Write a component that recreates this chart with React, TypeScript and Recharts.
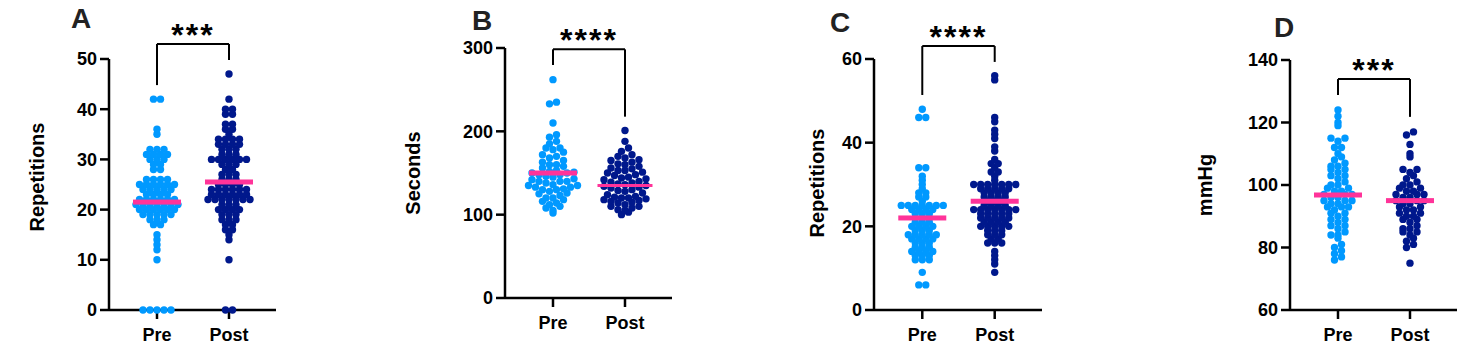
import React from 'react';
import { ScatterChart, Scatter, XAxis, YAxis, ReferenceLine } from 'recharts';

const groups = ['Pre', 'Post'];

// A: repetitions
const aPre = [0, 0, 0, 0, 0, 10, 12, 13, 14, 15, 17, 17, 18, 18, 18, 19, 19, 19, 19, 19, 20, 20, 20, 20, 20, 20, 21, 21, 21, 21, 21, 21, 21, 22, 22, 22, 22, 22, 22, 23, 23, 23, 23, 24, 24, 24, 24, 24, 25, 25, 25, 25, 25, 25, 26, 26, 26, 26, 28, 28, 29, 29, 30, 30, 30, 31, 31, 31, 31, 32, 32, 32, 35, 36, 42, 42];
const aPost = [0, 0, 10, 14, 15, 16, 16, 17, 17, 18, 18, 18, 19, 19, 19, 20, 20, 20, 20, 21, 21, 21, 22, 22, 22, 22, 22, 22, 22, 23, 23, 23, 23, 23, 23, 24, 24, 24, 24, 24, 24, 25, 25, 25, 25, 26, 26, 26, 27, 27, 27, 28, 28, 29, 29, 29, 30, 30, 30, 30, 30, 30, 31, 31, 31, 32, 32, 32, 33, 33, 33, 33, 34, 34, 34, 34, 35, 36, 36, 37, 37, 39, 39, 40, 40, 42, 47];
const aMedians = [21.5, 25.5];
const aBracket = [53, 44.8, 49.8];

// B: seconds
const bPre = [102, 105, 108, 110, 112, 114, 116, 118, 120, 120, 123, 125, 126, 128, 130, 130, 131, 133, 133, 135, 135, 136, 138, 140, 140, 140, 142, 143, 145, 146, 148, 148, 150, 150, 151, 152, 153, 156, 158, 160, 160, 163, 165, 168, 170, 172, 175, 178, 180, 180, 185, 188, 193, 196, 210, 233, 235, 262];
const bPost = [100, 103, 105, 106, 108, 110, 110, 112, 114, 115, 116, 117, 118, 119, 120, 120, 121, 122, 124, 126, 128, 129, 130, 132, 133, 134, 135, 136, 137, 138, 139, 140, 142, 143, 144, 145, 147, 148, 150, 151, 153, 153, 155, 156, 158, 160, 161, 163, 165, 166, 168, 170, 172, 176, 180, 188, 201];
const bMedians = [150, 135];
const bBracket = [298.4, 279.6, 217.6];

// C: repetitions
const cPre = [6, 6, 9, 12, 12, 12, 13, 13, 13, 14, 14, 14, 14, 15, 15, 15, 16, 16, 16, 17, 17, 17, 17, 18, 18, 18, 18, 18, 19, 19, 19, 20, 20, 20, 20, 21, 21, 21, 22, 22, 22, 23, 23, 23, 24, 24, 24, 24, 25, 25, 25, 25, 25, 25, 25, 26, 27, 27, 28, 28, 29, 30, 31, 32, 34, 34, 46, 46, 48];
const cPost = [9, 11, 12, 13, 14, 16, 16, 16, 17, 17, 18, 18, 18, 19, 19, 19, 20, 20, 20, 20, 20, 21, 21, 21, 21, 22, 22, 22, 22, 22, 23, 23, 23, 23, 23, 24, 24, 24, 24, 24, 24, 24, 25, 25, 25, 25, 26, 26, 26, 27, 27, 27, 27, 28, 28, 28, 28, 29, 29, 29, 29, 29, 30, 30, 30, 30, 30, 30, 30, 31, 32, 33, 33, 34, 35, 35, 36, 38, 39, 41, 42, 43, 45, 46, 55, 56];
const cMedians = [22, 26];
const cBracket = [63.1, 51.4, 59.3];

// D: mmHg
const dPre = [76, 77, 78, 79, 80, 81, 83, 84, 84, 85, 86, 87, 87, 88, 89, 89, 90, 91, 91, 92, 93, 93, 93, 94, 94, 95, 95, 95, 96, 96, 97, 97, 97, 98, 98, 99, 99, 100, 100, 101, 102, 103, 103, 104, 105, 105, 106, 106, 107, 108, 109, 110, 112, 112, 114, 115, 115, 119, 120, 122, 124];
const dPost = [75, 80, 81, 82, 83, 84, 85, 85, 86, 86, 87, 88, 89, 89, 90, 90, 91, 91, 92, 92, 93, 93, 94, 94, 95, 95, 95, 96, 96, 97, 97, 97, 98, 98, 99, 99, 100, 100, 101, 102, 103, 104, 105, 105, 109, 110, 113, 116, 117];
const dMedians = [96.8, 95];
const dBracket = [133.9, 128.8, 121.8];

const FONT = '"Liberation Sans", Arial, Helvetica, sans-serif';
const LIGHT = '#0099ff';
const DARK = '#00188c';
const PINK = '#ff3399';
const X_DOMAIN = [1 / 3, 2.653];
const R = 3.7;
const STEP = 7;

// rows of dots, prism-style: values binned, each row centred on the group
function swarm(values: number[], bin: number, center: number, pxPerX: number) {
  const rows = new Map<number, number[]>();
  for (const v of values) {
    const k = Math.floor(v / bin);
    if (!rows.has(k)) rows.set(k, []);
    rows.get(k)!.push(v);
  }
  const out: { x: number; y: number }[] = [];
  rows.forEach((vs) => {
    vs.sort((a, b) => a - b);
    const n = vs.length;
    // alternate outward from the middle so lower values sit at the centre
    const slots = vs.map((_, i) => i - (n - 1) / 2).sort((a, b) => Math.abs(a) - Math.abs(b));
    vs.forEach((v, i) => out.push({ x: center + (slots[i] * STEP) / pxPerX, y: v }));
  });
  return out;
}

type Panel = {
  letter: string;
  stars: string;
  yLabel: string;
  pre: number[];
  post: number[];
  medians: number[];
  bracket: number[];
  bin: number;
  domain: [number, number];
  ticks: number[];
  left: number;
  plot: { l: number; r: number; t: number; b: number };
  labelAt: [number, number];
  letterAt: [number, number];
  medianW?: number[];
  medianH?: number[];
};

const panels: Panel[] = [
  { letter: 'A', stars: '***', yLabel: 'Repetitions', pre: aPre, post: aPost, medians: aMedians, bracket: aBracket, bin: 1, domain: [0, 50], ticks: [0, 10, 20, 30, 40, 50], left: 0, plot: { l: 109, r: 276, t: 59, b: 310 }, labelAt: [37, 177], letterAt: [81, 28] },
  { letter: 'B', stars: '****', yLabel: 'Seconds', pre: bPre, post: bPost, medians: bMedians, bracket: bBracket, bin: 8, domain: [0, 300], ticks: [0, 100, 200, 300], left: 370, plot: { l: 135, r: 302, t: 48, b: 298 }, labelAt: [43, 173], letterAt: [112, 30], medianW: [48, 55], medianH: [5, 3] },
  { letter: 'C', stars: '****', yLabel: 'Repetitions', pre: cPre, post: cPost, medians: cMedians, bracket: cBracket, bin: 1, domain: [0, 60], ticks: [0, 20, 40, 60], left: 740, plot: { l: 134, r: 302, t: 59, b: 310 }, labelAt: [77, 183], letterAt: [100, 32] },
  { letter: 'D', stars: '***', yLabel: 'mmHg', pre: dPre, post: dPost, medians: dMedians, bracket: dBracket, bin: 2, domain: [60, 140], ticks: [60, 80, 100, 120, 140], left: 1108, plot: { l: 182, r: 349, t: 60, b: 310 }, labelAt: [97, 185], letterAt: [176, 37] },
];

const W = 370;
const H = 364;
const Y_AXIS_W = 60;
const X_AXIS_H = 30;

const tickStyle = { fontSize: 18, fontWeight: 700, fill: '#000', fontFamily: FONT };

function Dot(color: string) {
  return (p: any) => <circle cx={p.cx} cy={p.cy} r={R} fill={color} />;
}

function Bar(w: number, h: number) {
  return (p: any) => <rect x={p.cx - w / 2} y={p.cy - h / 2} width={w} height={h} fill={PINK} />;
}

function PanelChart({ p }: { p: Panel }) {
  const pxPerX = (p.plot.r - p.plot.l) / (X_DOMAIN[1] - X_DOMAIN[0]);
  const prePts = swarm(p.pre, p.bin, 1, pxPerX);
  const postPts = swarm(p.post, p.bin, 2, pxPerX);
  const mw = p.medianW ?? [48, 48];
  const mh = p.medianH ?? [5, 5];
  const [top, lb, rb] = p.bracket;
  const starsLabel = (props: any) => {
    const vb = props.viewBox || {};
    const cx = (vb.x ?? 0) + (vb.width ?? 0) / 2;
    return (
      <text x={cx} y={(vb.y ?? 0) + 2} textAnchor="middle" fontSize={32} fontWeight={900} fontFamily={FONT} letterSpacing={2} fill="#000">
        {p.stars}
      </text>
    );
  };
  return (
    <div style={{ position: 'absolute', left: p.left, top: 0, width: W, height: H }}>
      <ScatterChart
        width={W}
        height={H}
        margin={{ top: p.plot.t, right: W - p.plot.r, bottom: H - p.plot.b - X_AXIS_H, left: p.plot.l - Y_AXIS_W }}
      >
        <XAxis
          type="number"
          dataKey="x"
          domain={X_DOMAIN}
          ticks={[1, 2]}
          tickFormatter={(v: number) => groups[v - 1]}
          height={X_AXIS_H}
          tickSize={9}
          tickMargin={9}
          tick={tickStyle}
          axisLine={false}
          tickLine={{ stroke: '#000', strokeWidth: 2.5 }}
        />
        <YAxis
          type="number"
          dataKey="y"
          domain={p.domain}
          ticks={p.ticks}
          width={Y_AXIS_W}
          tickSize={9}
          tickMargin={3}
          tick={tickStyle}
          axisLine={{ stroke: '#000', strokeWidth: 2.5 }}
          tickLine={{ stroke: '#000', strokeWidth: 2.5 }}
        />
        {/* x axis line drawn as a reference line so the dots at the floor sit on top of it */}
        <ReferenceLine y={p.domain[0]} stroke="#000" strokeWidth={2.5} ifOverflow="visible" />
        <ReferenceLine segment={[{ x: 1, y: lb }, { x: 1, y: top }]} stroke="#000" strokeWidth={2} ifOverflow="visible" />
        <ReferenceLine segment={[{ x: 2, y: rb }, { x: 2, y: top }]} stroke="#000" strokeWidth={2} ifOverflow="visible" />
        <ReferenceLine
          segment={[{ x: 1, y: top }, { x: 2, y: top }]}
          stroke="#000"
          strokeWidth={2}
          ifOverflow="visible"
          label={{ content: starsLabel }}
        />
        <Scatter data={prePts} fill={LIGHT} shape={Dot(LIGHT)} isAnimationActive={false} />
        <Scatter data={postPts} fill={DARK} shape={Dot(DARK)} isAnimationActive={false} />
        <Scatter data={[{ x: 1, y: p.medians[0] }]} fill={PINK} shape={Bar(mw[0], mh[0])} isAnimationActive={false} />
        <Scatter data={[{ x: 2, y: p.medians[1] }]} fill={PINK} shape={Bar(mw[1], mh[1])} isAnimationActive={false} />
      </ScatterChart>
    </div>
  );
}

export default function App() {
  return (
    <div style={{ position: 'relative', width: 1478, height: 364, background: '#fff', fontFamily: FONT }}>
      <style>{'body{margin:0}'}</style>
      {panels.map((p) => (
        <PanelChart key={p.letter} p={p} />
      ))}
      <svg width={1478} height={364} style={{ position: 'absolute', left: 0, top: 0, pointerEvents: 'none' }}>
        {panels.map((p) => (
          <g key={p.letter} fontFamily={FONT} fontWeight={700}>
            <text x={p.left + p.letterAt[0]} y={p.letterAt[1]} textAnchor="middle" fontSize={28} fill="#222">
              {p.letter}
            </text>
            <text
              x={p.left + p.labelAt[0]}
              y={p.labelAt[1]}
              textAnchor="middle"
              dominantBaseline="central"
              fontSize={20}
              fill="#000"
              transform={`rotate(-90, ${p.left + p.labelAt[0]}, ${p.labelAt[1]})`}
            >
              {p.yLabel}
            </text>
          </g>
        ))}
      </svg>
    </div>
  );
}
